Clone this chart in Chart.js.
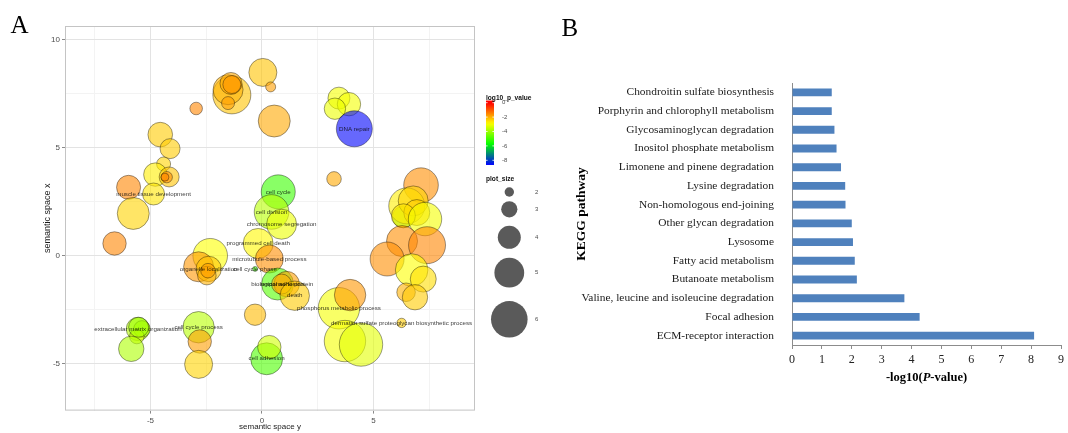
<!DOCTYPE html>
<html>
<head>
<meta charset="utf-8">
<script src="https://cdn.jsdelivr.net/npm/chart.js@4.4.1/dist/chart.umd.min.js"></script>
<style>
    html, body { margin: 0; padding: 0; background: #fff; }
    .panel { position: absolute; top: 0; height: 433px; }
    #panelA { left: 0; width: 560px; }
    #panelB { left: 560px; width: 508px; }
</style>
</head>
<body>
<div class="panel" id="panelA"><canvas id="revigoChart"></canvas></div>
<div class="panel" id="panelB"><canvas id="keggChart"></canvas></div>
<script>
// panel A - REVIGO scatter of GO terms
const termLabels = [
    '', '', '', '', '', '', '', '', '', '',
    '', '', '', '', '', '', '', 'muscle tissue development', '', '',
    '', '', '', 'DNA repair', '', 'cell cycle', '', '', '', '',
    '', '', '', '', '', '', '', '', '', '',
    'phosphorus metabolic process', '', '', '', 'dermatan sulfate proteoglycan biosynthetic process',
    'cell division', 'chromosome segregation', 'programmed cell death', 'microtubule-based process', 'cell cycle phase',
    'biological adhesion', 'response to protein', '', 'death', '',
    '', '', 'organelle localization', '', '',
    'extracellular matrix organization', '', '', '', '',
    'cell cycle process', '', '', 'cell adhesion', ''
]
const termX = [
    0.04, 0.39, -1.35, -1.52, -1.39, -1.35, -1.52, -2.95, 0.55, -4.56,
    -4.12, -4.41, -4.78, -4.16, -4.27, -4.35, -5.98, -4.86, -5.77, -6.61,
    3.45, 3.90, 3.27, 4.14, 3.23, 0.73, 6.33, 7.13, 6.49, 6.78,
    6.94, 6.34, 7.31, 6.28, 7.40, 5.61, 6.71, 7.23, 6.46, 6.86,
    3.45, 3.95, 3.72, 4.44, 6.26,
    0.43, 0.88, -0.17, 0.33, -0.31,
    0.70, 1.11, 0.88, 1.47, -0.31,
    -2.32, -2.84, -2.39, -2.47, -2.42,
    -5.56, -5.38, -5.61, -5.86, -5.53,
    -2.84, -2.79, -2.84, 0.21, 0.33
]
const termY = [
    8.49, 7.82, 7.45, 7.69, 7.98, 7.93, 7.07, 6.82, 6.24, 5.61,
    4.96, 4.25, 3.76, 3.65, 3.64, 3.64, 3.17, 2.86, 1.96, 0.57,
    7.30, 7.02, 6.81, 5.88, 3.56, 2.96, 1.80, 3.27, 2.31, 2.54,
    2.00, 1.85, 1.70, 0.68, 0.49, -0.15, -0.66, -1.08, -1.69, -1.92,
    -2.43, -1.82, -3.95, -4.11, -3.11,
    2.03, 1.46, 0.57, -0.15, -0.61,
    -1.31, -1.31, -1.31, -1.85, -2.73,
    0.00, -0.51, -0.61, -0.92, -0.69,
    -3.39, -3.39, -3.74, -4.31, -3.31,
    -3.31, -3.97, -5.03, -4.77, -4.23
]
const termSize = [
    4.74, 2.09, 6.21, 5.03, 3.85, 3.26, 2.53, 2.47, 5.32, 4.24,
    3.56, 2.68, 4.06, 3.56, 2.29, 1.79, 4.15, 3.85, 5.32, 4.06,
    3.85, 4.06, 3.76, 5.91, 2.76, 5.62, 3.80, 5.71, 5.91, 5.03,
    4.44, 4.15, 5.53, 5.18, 6.06, 5.62, 5.41, 4.44, 3.35, 4.35,
    6.71, 5.24, 6.71, 7.00, 2.00,
    5.71, 5.03, 5.03, 4.74, 1.35,
    5.32, 4.35, 3.56, 4.94, 3.76,
    5.71, 5.03, 4.35, 3.35, 2.76,
    4.06, 3.06, 2.76, 4.35, 3.56,
    5.24, 4.06, 4.74, 5.32, 4.06
]
const termLogP = [
    -2.2, -1.8, -2.2, -2.0, -1.9, -1.7, -1.8, -1.5, -1.9, -2.3,
    -2.3, -2.4, -2.7, -2.2, -1.6, -1.5, -1.5, -2.6, -2.4, -1.5,
    -3.0, -3.0, -3.1, -8.6, -1.9, -5.1, -4.6, -1.6, -2.7, -2.4,
    -2.3, -2.6, -3.0, -1.6, -1.5, -1.6, -2.9, -2.5, -2.0, -2.3,
    -3.0, -1.7, -3.0, -3.2, -2.3,
    -3.7, -3.1, -2.8, -1.6, -5.0,
    -4.8, -1.8, -2.0, -2.3, -2.1,
    -2.9, -1.7, -2.2, -2.0, -1.8,
    -3.7, -3.8, -3.3, -3.8, -4.0,
    -3.7, -1.8, -2.4, -4.9, -3.4
]
const axisBreaksX = [-7.5, -5, -2.5, 0, 2.5, 5, 7.5]
const axisBreaksY = [-5, -2.5, 0, 2.5, 5, 7.5, 10]
const colourBreaks = [0, -2, -4, -6, -8]
const sizeBreaks = [2, 3, 4, 5, 6]

// panel B - KEGG enrichment
const keggPathways = [
    'Chondroitin sulfate biosynthesis',
    'Porphyrin and chlorophyll metabolism',
    'Glycosaminoglycan degradation',
    'Inositol phosphate metabolism',
    'Limonene and pinene degradation',
    'Lysine degradation',
    'Non-homologous end-joining',
    'Other glycan degradation',
    'Lysosome',
    'Fatty acid metabolism',
    'Butanoate metabolism',
    'Valine, leucine and isoleucine degradation',
    'Focal adhesion',
    'ECM-receptor interaction'
]
const keggLogP = [1.33, 1.33, 1.42, 1.49, 1.64, 1.78, 1.79, 2.00, 2.04, 2.10, 2.17, 3.76, 4.27, 8.10]

const SANS = '"Liberation Sans", Arial, sans-serif'
const SERIF = '"Liberation Serif", "Times New Roman", serif'
const P_MIN = -8.65
const gradientStops = [[0, 0, 255], [0, 255, 0], [255, 255, 0], [255, 0, 0]]

const pColour = (v, alpha) => {
    let t = Math.min(1, Math.max(0, (v - P_MIN) / -P_MIN)) * 3
    const i = Math.min(2, Math.floor(t))
    const f = t - i
    const c = gradientStops[i].map((c0, k) => Math.round(c0 + (gradientStops[i + 1][k] - c0) * f))
    return `rgba(${c[0]},${c[1]},${c[2]},${alpha})`
}

const sizeToRadius = (s) => 3.4 * s - 2.1

const revigoDecor = {
    id: 'revigoDecor',
    afterDatasetsDraw(chart) {
        const {ctx, chartArea: a, scales: {x, y}} = chart
        ctx.save()
        ctx.strokeStyle = '#c4c4c4'
        ctx.lineWidth = 1
        ctx.strokeRect(a.left + 0.5, a.top + 0.5, a.right - a.left - 1, a.bottom - a.top - 1)

        ctx.font = `6.2px ${SANS}`
        ctx.fillStyle = 'rgba(0,0,0,0.78)'
        ctx.textAlign = 'center'
        ctx.textBaseline = 'middle'
        termLabels.forEach((label, i) => {
            if (label) ctx.fillText(label, x.getPixelForValue(termX[i]), y.getPixelForValue(termY[i]))
        })
        ctx.restore()
    },
    afterDraw(chart) {
        const {ctx} = chart
        ctx.save()
        ctx.fillStyle = '#000'
        ctx.font = `25px ${SERIF}`
        ctx.textBaseline = 'alphabetic'
        ctx.fillText('A', 10.5, 33)

        // colour bar legend
        const barX = 486, barW = 8
        const barY = v => 102.7 - v * 7.2
        const top = barY(0.3), bottom = barY(P_MIN)
        const grad = ctx.createLinearGradient(0, top, 0, bottom)
        for (let k = 0; k <= 24; k++) {
            grad.addColorStop(k / 24, pColour(0.3 + (P_MIN - 0.3) * k / 24, 1))
        }
        ctx.fillStyle = grad
        ctx.fillRect(barX, top, barW, bottom - top)
        ctx.strokeStyle = '#fff'
        ctx.lineWidth = 0.8
        ctx.font = `6px ${SANS}`
        ctx.textAlign = 'left'
        ctx.textBaseline = 'middle'
        colourBreaks.forEach(v => {
            const yy = barY(v)
            ctx.beginPath()
            ctx.moveTo(barX, yy); ctx.lineTo(barX + 1.6, yy)
            ctx.moveTo(barX + barW - 1.6, yy); ctx.lineTo(barX + barW, yy)
            ctx.stroke()
            ctx.fillStyle = '#4d4d4d'
            ctx.fillText(String(v), 502, yy)
        })
        ctx.fillStyle = '#111'
        ctx.font = `bold 6.6px ${SANS}`
        ctx.fillText('log10_p_value', 486, 98.5)
        ctx.fillText('plot_size', 486, 179.3)

        // size legend
        const keyY = [192, 209.3, 237.3, 272.7, 319.3]
        ctx.font = `6px ${SANS}`
        sizeBreaks.forEach((s, i) => {
            ctx.fillStyle = '#5a5a5a'
            ctx.beginPath()
            ctx.arc(509.3, keyY[i], sizeToRadius(s), 0, Math.PI * 2)
            ctx.fill()
            ctx.fillStyle = '#4d4d4d'
            ctx.fillText(String(s), 535, keyY[i])
        })
        ctx.restore()
    }
}

const keggDecor = {
    id: 'keggDecor',
    afterDraw(chart) {
        const {ctx, chartArea: a} = chart
        ctx.save()
        ctx.fillStyle = '#000'
        ctx.textBaseline = 'alphabetic'
        ctx.font = `25px ${SERIF}`
        ctx.fillText('B', 1.5, 36)

        const parts = [['-log10(', 'bold'], ['P', 'italic bold'], ['-value)', 'bold']]
        const fontFor = style => `${style} 12.5px ${SERIF}`
        let total = 0
        parts.forEach(([t, st]) => { ctx.font = fontFor(st); total += ctx.measureText(t).width })
        let cx = (a.left + a.right) / 2 - total / 2
        ctx.textBaseline = 'middle'
        parts.forEach(([t, st]) => {
            ctx.font = fontFor(st)
            ctx.fillText(t, cx, a.bottom + 33)
            cx += ctx.measureText(t).width
        })
        ctx.restore()
    }
}

const init = () => {
    const revigoCtx = document.getElementById('revigoChart')
    const keggCtx = document.getElementById('keggChart')

    const gridColour = (c) => (c.tick && c.tick.value % 5 === 0 ? '#e3e3e3' : '#f3f3f3')
    const tickColour = (c) => (c.tick && c.tick.value % 5 === 0 ? '#8a8a8a' : 'rgba(0,0,0,0)')
    const majorLabel = (value) => (value % 5 === 0 ? value : '')

    new Chart(revigoCtx, {
        type: 'bubble',
        data: {
            datasets: [{
                data: termX.map((x, i) => ({x, y: termY[i], r: sizeToRadius(termSize[i])})),
                backgroundColor: (c) => pColour(termLogP[c.dataIndex], 0.6),
                borderColor: 'rgba(0,0,0,0.55)',
                borderWidth: 0.7,
            }]
        },
        options: {
            responsive: true,
            maintainAspectRatio: false,
            animation: false,
            devicePixelRatio: 1,
            events: [],
            layout: {padding: {left: 0, top: 26, right: 85, bottom: 0}},
            plugins: {legend: {display: false}, tooltip: {enabled: false}},
            scales: {
                x: {
                    type: 'linear',
                    min: -8.83,
                    max: 9.55,
                    afterBuildTicks: (s) => { s.ticks = axisBreaksX.map(value => ({value})) },
                    afterFit: (s) => { s.height = 21 },
                    grid: {color: gridColour, tickColor: tickColour, tickLength: 3, lineWidth: 1},
                    border: {display: false},
                    ticks: {callback: majorLabel, font: {family: SANS, size: 8}, color: '#4d4d4d', padding: 2, maxRotation: 0, autoSkip: false},
                    title: {display: true, text: 'semantic space y', font: {family: SANS, size: 8}, color: '#1a1a1a', padding: {top: 0, bottom: 0}},
                },
                y: {
                    type: 'linear',
                    min: -7.17,
                    max: 10.64,
                    afterBuildTicks: (s) => { s.ticks = axisBreaksY.map(value => ({value})) },
                    afterFit: (s) => { s.width = 65 },
                    grid: {color: gridColour, tickColor: tickColour, tickLength: 3, lineWidth: 1},
                    border: {display: false},
                    ticks: {callback: majorLabel, font: {family: SANS, size: 8}, color: '#4d4d4d', padding: 2, autoSkip: false},
                    title: {display: true, text: 'semantic space x', font: {family: SANS, size: 9}, color: '#1a1a1a', padding: {top: 42.6, bottom: 0}},
                }
            }
        },
        plugins: [revigoDecor]
    })

    new Chart(keggCtx, {
        type: 'bar',
        data: {
            labels: keggPathways,
            datasets: [{
                data: keggLogP,
                backgroundColor: '#4f81bd',
                barPercentage: 0.42,
                categoryPercentage: 1,
            }]
        },
        options: {
            indexAxis: 'y',
            responsive: true,
            maintainAspectRatio: false,
            animation: false,
            devicePixelRatio: 1,
            events: [],
            layout: {padding: {left: 0, top: 83, right: 7, bottom: 0}},
            plugins: {legend: {display: false}, tooltip: {enabled: false}},
            scales: {
                x: {
                    min: 0,
                    max: 9,
                    afterFit: (s) => { s.height = 88 },
                    grid: {drawOnChartArea: false, drawTicks: true, tickLength: 4, tickColor: '#8c8c8c'},
                    border: {color: '#8c8c8c', width: 1},
                    ticks: {stepSize: 1, font: {family: SERIF, size: 12}, color: '#222', padding: 4},
                },
                y: {
                    afterFit: (s) => { s.width = 232 },
                    grid: {display: false},
                    border: {display: true, color: '#8c8c8c', width: 1},
                    ticks: {font: {family: SERIF, size: 11.4}, color: '#1a1a1a', padding: 10, autoSkip: false},
                    title: {display: true, text: 'KEGG pathway', font: {family: SERIF, size: 13.5, weight: 'bold'}, color: '#000', padding: {top: 13.6, bottom: 0}},
                }
            }
        },
        plugins: [keggDecor]
    })
}

document.addEventListener('DOMContentLoaded', init)
</script>
</body>
</html>
